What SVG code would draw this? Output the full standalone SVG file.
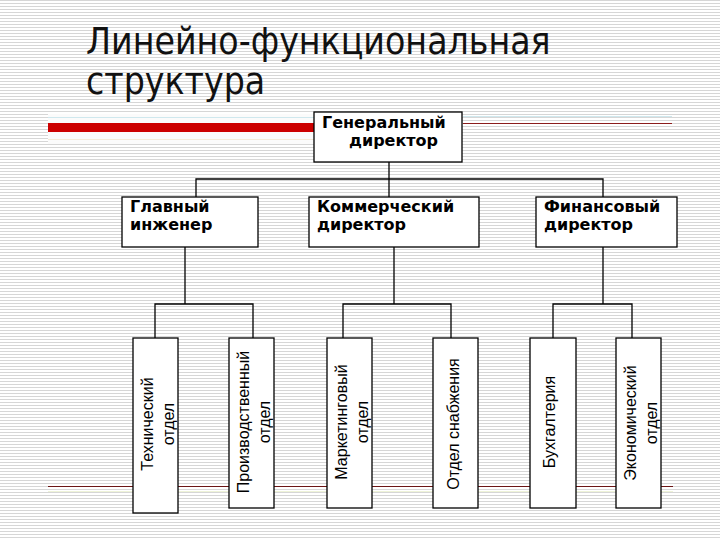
<svg xmlns="http://www.w3.org/2000/svg" width="720" height="540" viewBox="0 0 720 540">
<defs>
<pattern id="stripes" x="0" y="0" width="6" height="3" patternUnits="userSpaceOnUse">
<rect width="6" height="3" fill="#ffffff"/>
<rect y="0" width="6" height="1" fill="#d6d6d6"/>
</pattern>
<style>
.box{fill:#ffffff;stroke:#000000;stroke-width:1.3}
.conn{fill:none;stroke:#000000;stroke-width:1.3}
.title{font-family:"DejaVu Sans Condensed","DejaVu Sans",sans-serif;font-size:37px;fill:#111111}
.bold{font-family:"DejaVu Sans","Liberation Sans",sans-serif;font-weight:bold;font-size:16px;fill:#000000}
.vt{font-family:"Liberation Sans",Arial,sans-serif;font-size:16px;fill:#000000;text-anchor:middle}
</style>
</defs>
<rect width="720" height="540" fill="url(#stripes)"/>
<!-- decorative lines -->
<rect x="48" y="114" width="266" height="30" fill="#fbfbfb"/>
<line x1="48" y1="117.5" x2="314" y2="117.5" stroke="#cfe8ee" stroke-width="1"/>
<line x1="48" y1="139.5" x2="314" y2="139.5" stroke="#f4ead8" stroke-width="1"/>
<rect x="48" y="123" width="266" height="9" fill="#cc0000"/>
<line x1="463" y1="116.5" x2="672" y2="116.5" stroke="#cfe8ee" stroke-width="1"/>
<line x1="463" y1="123.5" x2="672" y2="123.5" stroke="#8b1c1c" stroke-width="1"/>
<line x1="48" y1="491.5" x2="673" y2="491.5" stroke="#eef3d8" stroke-width="1"/>
<line x1="48" y1="486.5" x2="673" y2="486.5" stroke="#6b1414" stroke-width="1.2"/>
<text class="title" x="86" y="54">Линейно-функциональная</text>
<text class="title" x="86" y="94">структура</text>
<g id="connectors">
<polyline class="conn" points="389,162 389,197"/>
<polyline class="conn" points="196,197 196,179 603,179 603,197"/>
<polyline class="conn" points="185,247 185,304"/>
<polyline class="conn" points="155,338 155,304 253,304 253,338"/>
<polyline class="conn" points="394,247 394,304"/>
<polyline class="conn" points="343,338 343,304 451,304 451,338"/>
<polyline class="conn" points="603,247 603,304"/>
<polyline class="conn" points="553,338 553,304 632,304 632,338"/>
</g>
<g id="gen">
<rect class="box" x="314" y="112" width="148" height="50"/>
<text class="bold" x="322" y="128">Генеральный</text>
<text class="bold" x="349" y="146">директор</text>
</g>
<g id="glav">
<rect class="box" x="122" y="197" width="136" height="50"/>
<text class="bold" x="130" y="212">Главный</text>
<text class="bold" x="130" y="230">инженер</text>
</g>
<g id="komm">
<rect class="box" x="309" y="197" width="170" height="50"/>
<text class="bold" x="317" y="212">Коммерческий</text>
<text class="bold" x="317" y="230">директор</text>
</g>
<g id="fin">
<rect class="box" x="536" y="197" width="141" height="50"/>
<text class="bold" x="544" y="212">Финансовый</text>
<text class="bold" x="544" y="230">директор</text>
</g>
<g id="tech">
<rect class="box" x="133" y="338" width="45" height="175"/>
<text class="vt" transform="translate(153,424) rotate(-90)"><tspan x="0" y="0">Технический</tspan><tspan x="0" y="21">отдел</tspan></text>
</g>
<g id="proizv">
<rect class="box" x="229" y="338" width="45" height="170"/>
<text class="vt" transform="translate(249,422) rotate(-90)"><tspan x="0" y="0">Производственный</tspan><tspan x="0" y="21">отдел</tspan></text>
</g>
<g id="market">
<rect class="box" x="327" y="338" width="45" height="170"/>
<text class="vt" transform="translate(347,422) rotate(-90)"><tspan x="0" y="0">Маркетинговый</tspan><tspan x="0" y="21">отдел</tspan></text>
</g>
<g id="snab">
<rect class="box" x="433" y="338" width="45" height="170"/>
<text class="vt" transform="translate(459,424) rotate(-90)">Отдел снабжения</text>
</g>
<g id="buh">
<rect class="box" x="530" y="338" width="46" height="170"/>
<text class="vt" transform="translate(555,422) rotate(-90)">Бухгалтерия</text>
</g>
<g id="econ">
<rect class="box" x="616" y="338" width="45" height="170"/>
<text class="vt" transform="translate(636,423) rotate(-90)"><tspan x="0" y="0">Экономический</tspan><tspan x="0" y="21">отдел</tspan></text>
</g>
</svg>
